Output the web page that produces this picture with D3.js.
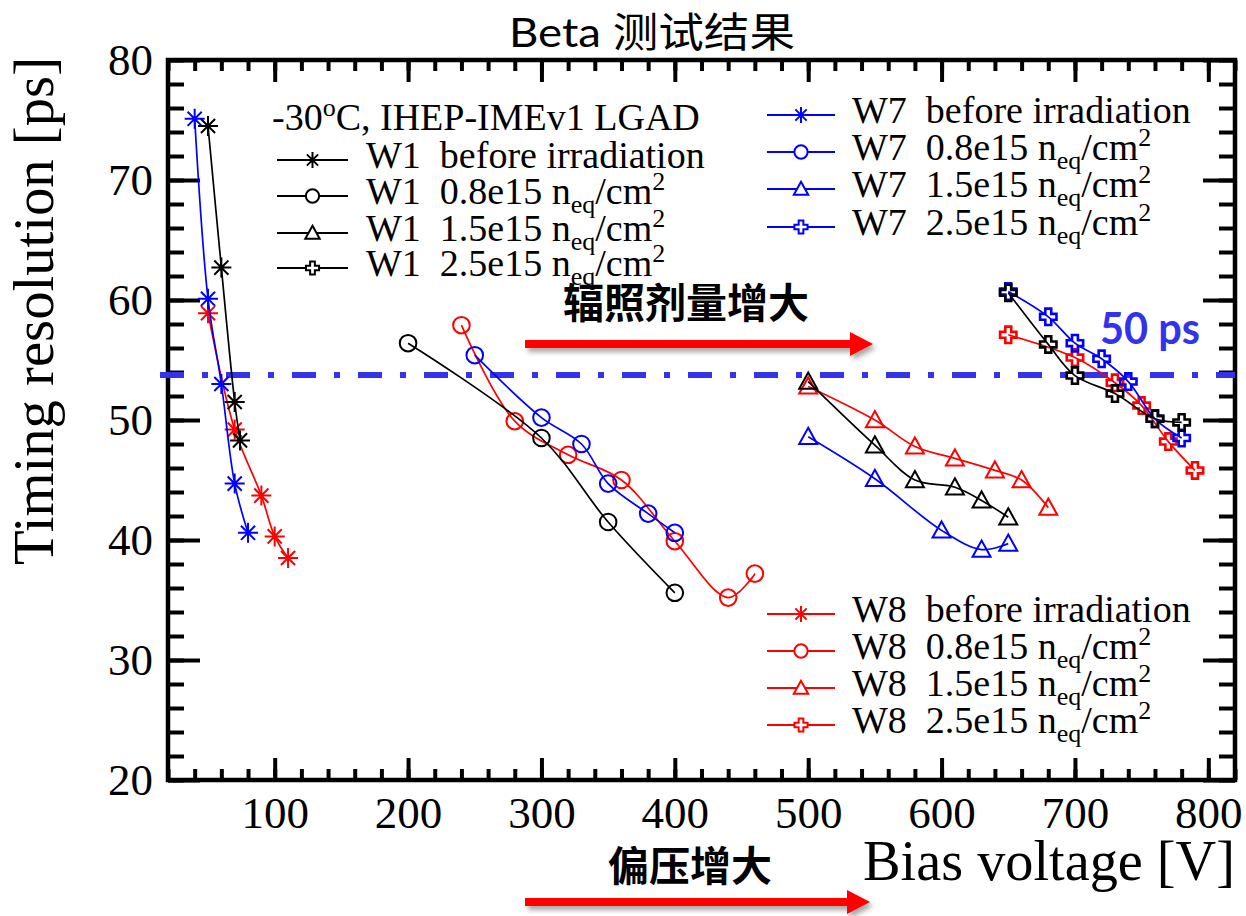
<!DOCTYPE html>
<html>
<head>
<meta charset="utf-8">
<script src="https://cdn.jsdelivr.net/npm/d3@7"></script>
<style>
  body { margin: 0; background: #fff; }
  text { white-space: pre; }
</style>
</head>
<body>
<div id="chart"></div>
<script>
// ---- data: [bias voltage (V), timing resolution (ps)] ----
const w1Before = [[50, 74.5], [60, 62.7], [70, 51.5], [74, 48.3]];
const w7Before = [[40, 75.1], [50, 60.1], [60, 53.0], [70, 44.7], [80, 40.6]];
const w8Before = [[50, 58.9], [70, 49.2], [90, 43.7], [100, 40.3], [110, 38.5]];

const w1F08 = [[200, 56.4], [300, 48.5], [350, 41.5], [400, 35.6]];
const w7F08 = [[250, 55.4], [300, 50.2], [330, 48.0], [350, 44.7], [380, 42.2], [400, 40.6]];
const w8F08 = [[240, 57.9], [280, 49.9], [320, 47.1], [360, 45.0], [400, 39.9], [440, 35.2], [460, 37.2]];

const w1F15 = [[500, 53.2], [550, 47.9], [580, 45.0], [610, 44.4], [630, 43.3], [650, 41.9]];
const w7F15 = [[500, 48.6], [550, 45.1], [600, 40.8], [630, 39.2], [650, 39.7]];
const w8F15 = [[500, 52.8], [550, 50.0], [580, 47.8], [610, 46.8], [640, 45.8], [660, 45.0], [680, 42.7]];

const w1F25 = [[650, 60.6], [680, 56.3], [700, 53.7], [730, 52.2], [760, 50.1], [780, 49.8]];
const w7F25 = [[650, 60.7], [680, 58.6], [700, 56.4], [720, 55.1], [740, 53.2], [760, 50.1], [780, 48.5]];
const w8F25 = [[650, 57.1], [700, 55.2], [730, 53.1], [750, 51.2], [770, 48.2], [790, 45.8]];

const wafers = ["W1", "W7", "W8"];
const waferColors = ["#000000", "#0000ff", "#ff0000"];
const fluenceLabels = ["before irradiation", "0.8e15", "1.5e15", "2.5e15"];
const markerTypes = ["star", "circle", "triangle", "cross"];
const xTicks = [100, 200, 300, 400, 500, 600, 700, 800];
const yTicks = [20, 30, 40, 50, 60, 70, 80];
const refLine = 53.75;   // the "50 ps" reference line as drawn

const seriesData = [
  [w1Before, w1F08, w1F15, w1F25],
  [w7Before, w7F08, w7F15, w7F25],
  [w8Before, w8F08, w8F15, w8F25]
];

// ---- layout ----
const W = 1246, H = 916;
const frame = { left: 168, right: 1235, top: 60, bottom: 780 };
const serif = "'Liberation Serif', 'Times New Roman', serif";
const cjk = "Lato, 'Noto Sans CJK SC', sans-serif";

const svg = d3.select("#chart").append("svg")
  .attr("width", W).attr("height", H);

const defs = svg.append("defs");
defs.append("filter").attr("id", "shadow")
  .attr("x", "-10%").attr("y", "-50%").attr("width", "120%").attr("height", "250%")
  .append("feDropShadow")
  .attr("dx", 3).attr("dy", 4).attr("stdDeviation", 2.5)
  .attr("flood-color", "#000").attr("flood-opacity", 0.35);

const x = d3.scaleLinear().domain([20, 820]).range([frame.left, frame.right]);
const y = d3.scaleLinear().domain([20, 80]).range([frame.bottom, frame.top]);

// marker shapes (ROOT style)
function markerPath(type, s) {
  if (type === "star") {
    const k = s * 0.707;
    return `M${-s},0H${s}M0,${-s}V${s}M${-k},${-k}L${k},${k}M${-k},${k}L${k},${-k}`;
  }
  if (type === "circle") {
    return `M${s},0A${s},${s} 0 1 1 ${-s},0A${s},${s} 0 1 1 ${s},0Z`;
  }
  if (type === "triangle") {
    return `M0,${-s}L${s},${s * 0.8}L${-s},${s * 0.8}Z`;
  }
  // open cross
  const a = s * 0.36;
  return `M${-a},${-s}H${a}V${-a}H${s}V${a}H${a}V${s}H${-a}V${a}H${-s}V${-a}H${-a}Z`;
}
const markerSize = { star: 10, circle: 8.3, triangle: 9, cross: 8.2 };

// ---- axes ----
function styleAxis(g) {
  g.select(".domain").remove();
  g.selectAll(".tick line").attr("stroke", "#000").attr("stroke-width", 4);
  g.selectAll(".tick text")
    .attr("fill", "#000")
    .style("font-family", serif)
    .style("font-size", "45px");
}

svg.append("g").attr("transform", `translate(0,${frame.bottom})`)
  .call(d3.axisBottom(x).tickValues(d3.range(20, 821, 20)).tickSize(-11).tickFormat(""))
  .call(styleAxis);
svg.append("g").attr("transform", `translate(0,${frame.bottom})`)
  .call(d3.axisBottom(x).tickValues(xTicks).tickSize(-22).tickPadding(16).tickFormat(d3.format("d")))
  .call(styleAxis);
svg.append("g").attr("transform", `translate(0,${frame.top})`)
  .call(d3.axisTop(x).tickValues(d3.range(20, 821, 20)).tickSize(-11).tickFormat(""))
  .call(styleAxis);
svg.append("g").attr("transform", `translate(0,${frame.top})`)
  .call(d3.axisTop(x).tickValues(xTicks).tickSize(-22).tickFormat(""))
  .call(styleAxis);

svg.append("g").attr("transform", `translate(${frame.left},0)`)
  .call(d3.axisLeft(y).tickValues(d3.range(20, 81, 2)).tickSize(-16).tickFormat(""))
  .call(styleAxis);
svg.append("g").attr("transform", `translate(${frame.left},0)`)
  .call(d3.axisLeft(y).tickValues(yTicks).tickSize(-32).tickPadding(15).tickFormat(d3.format("d")))
  .call(styleAxis);
svg.append("g").attr("transform", `translate(${frame.right},0)`)
  .call(d3.axisRight(y).tickValues(d3.range(20, 81, 2)).tickSize(-16).tickFormat(""))
  .call(styleAxis);
svg.append("g").attr("transform", `translate(${frame.right},0)`)
  .call(d3.axisRight(y).tickValues(yTicks).tickSize(-32).tickFormat(""))
  .call(styleAxis);

svg.append("rect")
  .attr("x", frame.left).attr("y", frame.top)
  .attr("width", frame.right - frame.left).attr("height", frame.bottom - frame.top)
  .attr("fill", "none").attr("stroke", "#000").attr("stroke-width", 4.5);

// axis titles
svg.append("text")
  .attr("transform", "translate(53,57) rotate(-90)")
  .attr("text-anchor", "end")
  .attr("textLength", 508).attr("lengthAdjust", "spacingAndGlyphs")
  .style("font-family", serif).style("font-size", "56px")
  .text("Timing resolution [ps]");

svg.append("text")
  .attr("x", frame.right).attr("y", 880)
  .attr("text-anchor", "end")
  .attr("textLength", 372).attr("lengthAdjust", "spacingAndGlyphs")
  .style("font-family", serif).style("font-size", "56px")
  .text("Bias voltage [V]");

// title
svg.append("text")
  .attr("x", 652).attr("y", 47)
  .attr("text-anchor", "middle")
  .attr("textLength", 286).attr("lengthAdjust", "spacingAndGlyphs")
  .style("font-family", cjk).style("font-size", "41px")
  .text("Beta 测试结果");

// reference line
svg.append("line")
  .attr("x1", 160).attr("x2", frame.right)
  .attr("y1", y(refLine)).attr("y2", y(refLine))
  .attr("stroke", "#3333ee").attr("stroke-width", 6)
  .attr("stroke-dasharray", "24,18,6,18");

svg.append("text")
  .attr("x", 1150).attr("y", 344)
  .attr("text-anchor", "middle")
  .attr("textLength", 100).attr("lengthAdjust", "spacingAndGlyphs")
  .attr("fill", "#3333ee")
  .style("font-family", cjk).style("font-size", "43px").style("font-weight", "bold")
  .text("50 ps");

// ---- series ----
const line = d3.line()
  .x(d => x(d[0]))
  .y(d => y(d[1]))
  .curve(d3.curveCatmullRom.alpha(0.5));

const drawOrder = [2, 1, 0];
drawOrder.forEach(wi => {
  seriesData[wi].forEach((data, fi) => {
    const g = svg.append("g");
    g.append("path")
      .datum(data)
      .attr("fill", "none")
      .attr("stroke", waferColors[wi])
      .attr("stroke-width", 1.7)
      .attr("d", line);
    const mt = markerTypes[fi];
    g.selectAll("path.mk")
      .data(data)
      .join("path")
      .attr("class", "mk")
      .attr("transform", d => `translate(${x(d[0])},${y(d[1])})`)
      .attr("d", markerPath(mt, markerSize[mt]))
      .attr("fill", "none")
      .attr("stroke", waferColors[wi])
      .attr("stroke-width", mt === "cross" ? 2.6 : 2);
  });
});

// ---- legends ----
function legendLabel(textSel, wafer, fi) {
  if (fi === 0) {
    textSel.append("tspan").text(`${wafer}  before irradiation`);
    return;
  }
  textSel.append("tspan").text(`${wafer}  ${fluenceLabels[fi]} n`);
  textSel.append("tspan").attr("dy", 9).style("font-size", "26px").text("eq");
  textSel.append("tspan").attr("dy", -9).text("/cm");
  textSel.append("tspan").attr("dy", -14).style("font-size", "26px").text("2");
}

const legendPos = [
  { x1: 277, x2: 348, rows: [160, 196, 233, 268], tx: 366 },
  { x1: 767, x2: 835, rows: [115, 152, 189, 227], tx: 852 },
  { x1: 767, x2: 835, rows: [614, 651, 688, 725], tx: 852 }
];

svg.append("text")
  .attr("x", 272).attr("y", 130)
  .style("font-family", serif).style("font-size", "38px")
  .call(t => {
    t.append("tspan").text("-30");
    t.append("tspan").attr("dy", -14).style("font-size", "26px").text("o");
    t.append("tspan").attr("dy", 14).text("C, IHEP-IMEv1 LGAD");
  });

wafers.forEach((wafer, wi) => {
  const pos = legendPos[wi];
  const color = waferColors[wi];
  fluenceLabels.forEach((lab, fi) => {
    const ry = pos.rows[fi];
    const g = svg.append("g");
    g.append("line")
      .attr("x1", pos.x1).attr("x2", pos.x2)
      .attr("y1", ry).attr("y2", ry)
      .attr("stroke", color).attr("stroke-width", 2);
    const mt = markerTypes[fi];
    g.append("path")
      .attr("transform", `translate(${(pos.x1 + pos.x2) / 2},${ry})`)
      .attr("d", markerPath(mt, markerSize[mt] * 0.8))
      .attr("fill", mt === "star" ? "none" : "#fff")
      .attr("stroke", color)
      .attr("stroke-width", 2);
    g.append("text")
      .attr("x", pos.tx).attr("y", ry + 8)
      .attr("fill", "#000")
      .style("font-family", serif).style("font-size", "38px")
      .call(t => legendLabel(t, wafer, fi));
  });
});

// ---- annotation arrows ----
function arrow(x0, x1, ay) {
  const g = svg.append("g").attr("filter", "url(#shadow)");
  g.append("path")
    .attr("d", `M${x0},${ay - 4}H${x1 - 23}V${ay - 12}L${x1},${ay}L${x1 - 23},${ay + 12}V${ay + 4}H${x0}Z`)
    .attr("fill", "#ff0000");
}
arrow(525, 873, 344);
arrow(525, 870, 902);

svg.append("text")
  .attr("x", 686).attr("y", 318)
  .attr("text-anchor", "middle")
  .style("font-family", cjk).style("font-size", "41px").style("font-weight", "bold")
  .text("辐照剂量增大");

svg.append("text")
  .attr("x", 690).attr("y", 881)
  .attr("text-anchor", "middle")
  .style("font-family", cjk).style("font-size", "41px").style("font-weight", "bold")
  .text("偏压增大");
</script>
</body>
</html>
